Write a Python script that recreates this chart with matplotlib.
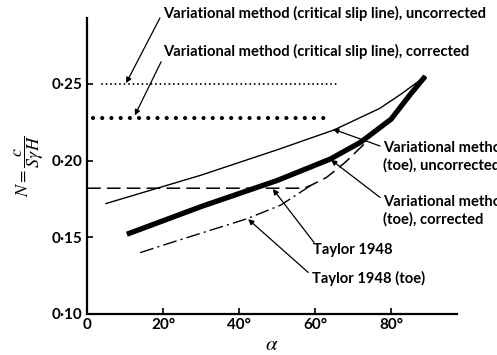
import matplotlib
matplotlib.use("Agg")
import matplotlib.pyplot as plt

plt.rcParams['font.family'] = ['Lato', 'DejaVu Sans']
plt.rcParams['mathtext.fontset'] = 'stix'

# ---- data (alpha in degrees, N) ----
crit_uncorr_a = [4, 66.5]
crit_uncorr_n = [0.25, 0.25]

crit_corr_a = [1.5, 64.5]
crit_corr_n = [0.228, 0.228]

toe_uncorr_a = [5, 30, 50, 65, 77, 83, 89]
toe_uncorr_n = [0.172, 0.1905, 0.207, 0.220, 0.234, 0.244, 0.255]

toe_corr_a = [10.5, 30, 50, 64, 72, 80, 85, 89]
toe_corr_n = [0.152, 0.170, 0.187, 0.201, 0.212, 0.227, 0.243, 0.255]

taylor_a = [0, 57, 59, 63, 68, 73]
taylor_n = [0.182, 0.182, 0.184, 0.189, 0.199, 0.211]

taylor_toe_a = [14, 24, 42, 51, 59]
taylor_toe_n = [0.140, 0.148, 0.162, 0.171, 0.184]

xticks = [0, 20, 40, 60, 80]
xticklabels = ["0", "20°", "40°", "60°", "80°"]
yticks = [0.10, 0.15, 0.20, 0.25]
yticklabels = ["0·10", "0·15", "0·20", "0·25"]

fig = plt.figure(figsize=(4.97, 3.55), dpi=100)
ax = fig.add_axes([0.175, 0.1155, 0.745, 0.834])

ax.plot(crit_uncorr_a, crit_uncorr_n, color='black', lw=1.4,
        dashes=(0.01, 2.3), dash_capstyle='round')
ax.plot(crit_corr_a, crit_corr_n, color='black', lw=3.0,
        dashes=(0.01, 2.2), dash_capstyle='round')
ax.plot(toe_uncorr_a, toe_uncorr_n, color='black', lw=1.0)
ax.plot(toe_corr_a, toe_corr_n, color='black', lw=3.8, solid_capstyle='butt')
ax.plot(taylor_a, taylor_n, color='black', lw=1.1, dashes=(9, 4))
ax.plot(taylor_toe_a, taylor_toe_n, color='black', lw=1.0,
        dashes=(10, 3, 1.5, 3))

ax.set_xlim(0, 97.4)
ax.set_ylim(0.10, 0.293)
ax.spines['top'].set_visible(False)
ax.spines['right'].set_visible(False)
ax.spines['left'].set_linewidth(1.6)
ax.spines['bottom'].set_linewidth(1.6)

ax.set_xticks(xticks)
ax.set_xticklabels(xticklabels, fontsize=11, fontweight='bold')
ax.set_yticks(yticks)
ax.set_yticklabels(yticklabels, fontsize=11, fontweight='bold')
ax.tick_params(direction='in', length=4, width=1.2, pad=3)

ax.set_xlabel(r'$\alpha$', fontsize=15, labelpad=1)
ax.set_ylabel(r'$N = \dfrac{c}{S\gamma H}$', fontsize=13, labelpad=4)

# ---- labels with leader arrows ----
txt = dict(fontsize=10.6, fontweight='bold', ha='left', va='center',
           clip_on=False)
arrow = dict(arrowstyle='-|>', color='black', lw=0.9,
             mutation_scale=8, shrinkA=0, shrinkB=0)

ax.text(20, 0.2958, "Variational method (critical slip line), uncorrected", **txt)
ax.annotate('', xy=(10.3, 0.2505), xytext=(19.2, 0.293),
            arrowprops=arrow, annotation_clip=False)

ax.text(20, 0.271, "Variational method (critical slip line), corrected", **txt)
ax.annotate('', xy=(12.6, 0.2295), xytext=(19.5, 0.2644),
            arrowprops=arrow, annotation_clip=False)

ax.text(77.9, 0.2026, "Variational method\n(toe), uncorrected",
        linespacing=1.3, **txt)
ax.annotate('', xy=(64.7, 0.2205), xytext=(77.1, 0.2095),
            arrowprops=arrow, annotation_clip=False)

ax.text(77.9, 0.1673, "Variational method\n(toe), corrected",
        linespacing=1.3, **txt)
ax.annotate('', xy=(64.2, 0.2005), xytext=(77.1, 0.176),
            arrowprops=arrow, annotation_clip=False)

ax.text(59.5, 0.1415, "Taylor 1948", **txt)
ax.annotate('', xy=(48.9, 0.1815), xytext=(59.7, 0.1467),
            arrowprops=arrow, annotation_clip=False)

ax.text(59.2, 0.1232, "Taylor 1948 (toe)", **txt)
ax.annotate('', xy=(42.4, 0.1618), xytext=(58.2, 0.1271),
            arrowprops=arrow, annotation_clip=False)

fig.savefig("out.png", dpi=100)
